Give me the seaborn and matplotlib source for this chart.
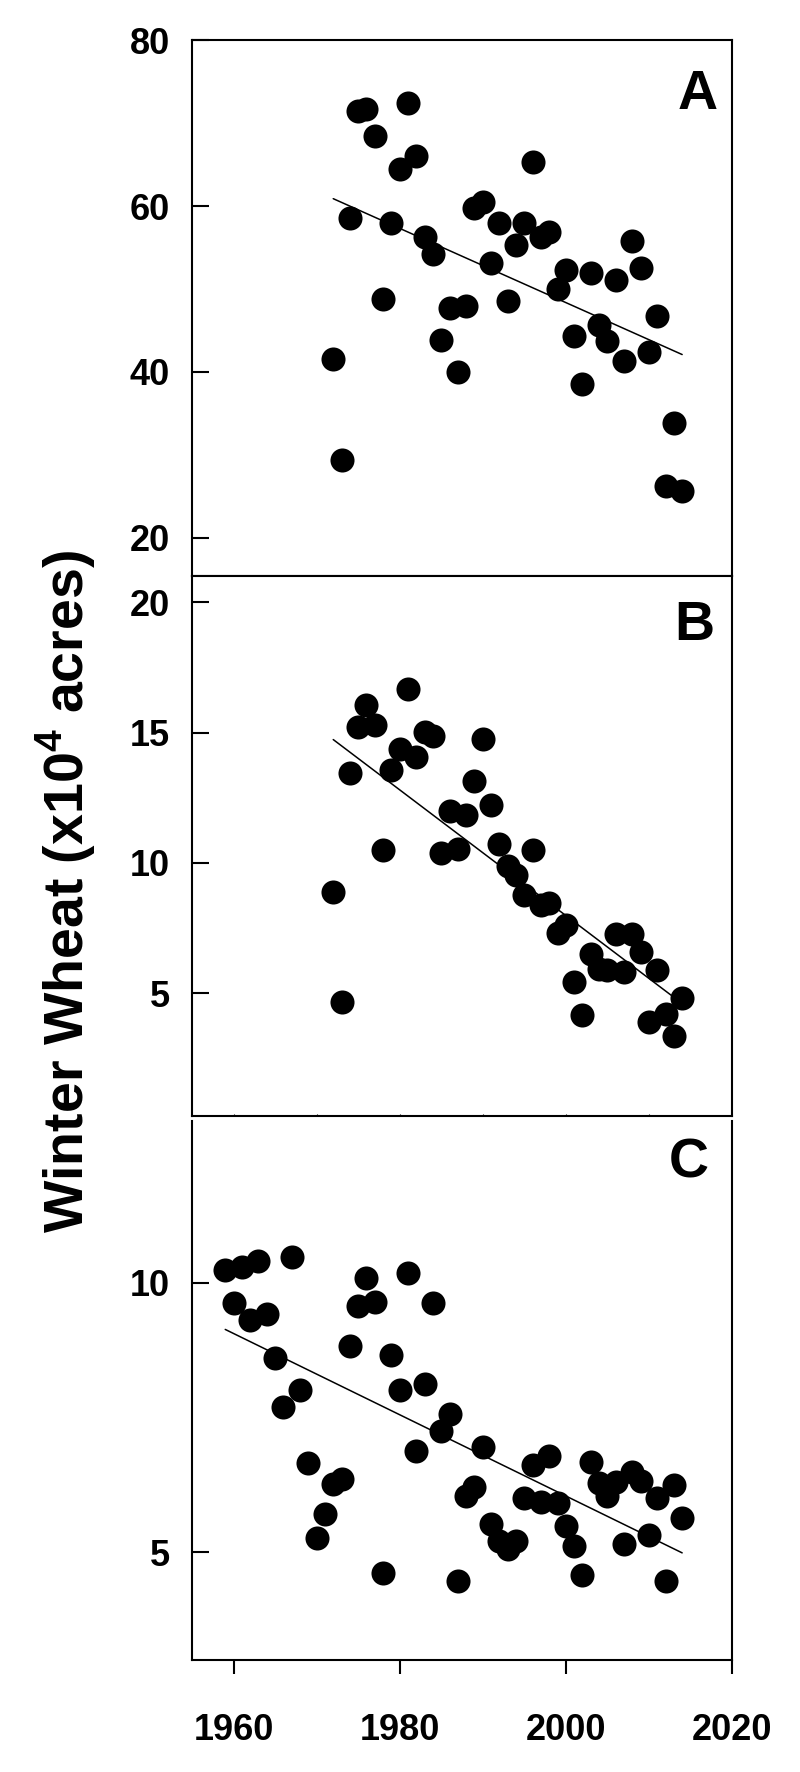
import numpy as np
import pandas as pd
import seaborn as sns
import matplotlib.pyplot as plt
from matplotlib import font_manager

# ==== data
years_a = list(range(1972, 2015))
wheat_a = [41.6, 29.4, 58.5, 71.4, 71.7, 68.4, 48.8, 57.9, 64.5, 72.4,
           66.0, 56.3, 54.2, 43.8, 47.7, 40.0, 47.9, 59.8, 60.5, 53.1,
           57.9, 48.6, 55.3, 58.0, 65.3, 56.3, 56.9, 50.0, 52.3, 44.3,
           38.5, 51.9, 45.6, 43.7, 51.1, 41.3, 55.8, 52.5, 42.4, 46.7,
           26.3, 33.8, 25.7]

years_b = list(range(1972, 2015))
wheat_b = [8.89, 4.68, 13.45, 15.22, 16.05, 15.30, 10.48, 13.56, 14.38, 16.67,
           14.07, 15.03, 14.86, 10.40, 12.01, 10.53, 11.84, 13.14, 14.75, 12.22,
           10.71, 9.89, 9.55, 8.77, 10.48, 8.38, 8.48, 7.32, 7.63, 5.44,
           4.18, 6.53, 5.92, 5.88, 7.29, 5.82, 7.29, 6.58, 3.90, 5.90,
           4.21, 3.38, 4.82]

years_c = list(range(1959, 2015))
wheat_c = [10.24, 9.63, 10.30, 9.31, 10.41, 9.41, 8.61, 7.69, 10.48, 8.00,
           6.66, 5.27, 5.71, 6.26, 6.35, 8.82, 9.56, 10.08, 9.65, 4.61,
           8.66, 8.00, 10.18, 6.87, 8.12, 9.63, 7.24, 7.56, 4.46, 6.05,
           6.21, 6.96, 5.53, 5.21, 5.06, 5.20, 6.01, 6.61, 5.93, 6.79,
           5.91, 5.49, 5.11, 4.58, 6.67, 6.29, 6.05, 6.30, 5.16, 6.49,
           6.33, 5.31, 6.01, 4.46, 6.25, 5.63]

panel_letters = ["A", "B", "C"]
y_ticks = [[20, 40, 60, 80], [5, 10, 15, 20], [5, 10]]
y_limits = [(15.4, 80), (0.3, 21), (3, 13)]
x_ticks = [1960, 1980, 2000, 2020]

sns.set_style("ticks")
names = {f.name for f in font_manager.fontManager.ttflist}
narrow = "Liberation Sans Narrow" if "Liberation Sans Narrow" in names else "Liberation Sans"
plt.rcParams['font.family'] = ['Liberation Sans', 'DejaVu Sans']
plt.rcParams['mathtext.fontset'] = 'custom'
plt.rcParams['mathtext.rm'] = 'Liberation Sans'
plt.rcParams['mathtext.bf'] = 'Liberation Sans:bold'
plt.rcParams['text.color'] = 'black'
plt.rcParams['xtick.color'] = 'black'
plt.rcParams['ytick.color'] = 'black'

fig = plt.figure(figsize=(8, 17.72), dpi=100)
boxes = [[0.24, 0.6749, 0.675, 0.3025],
         [0.24, 0.3702, 0.675, 0.3047],
         [0.24, 0.0632, 0.675, 0.3042]]
letter_pos = [(0.937, 0.897), (0.931, 0.907), (0.919, 0.922)]
tick_size = 26 if narrow == "Liberation Sans" else 30

datasets = [(years_a, wheat_a), (years_b, wheat_b), (years_c, wheat_c)]
for i, (yrs, vals) in enumerate(datasets):
    ax = fig.add_axes(boxes[i])
    df = pd.DataFrame({"year": yrs, "wheat": vals})
    sns.regplot(x="year", y="wheat", data=df, ax=ax, ci=None, color="black",
                scatter_kws={"s": 300, "alpha": 1, "linewidths": 0},
                line_kws={"lw": 1.1})
    ax.set_xlim(1955, 2020)
    ax.set_ylim(*y_limits[i])
    ax.set_yticks(y_ticks[i])
    ax.set_xlabel("")
    ax.set_ylabel("")
    for s in ax.spines.values():
        s.set_linewidth(1.5)
        s.set_color("black")
    ax.tick_params(axis="y", direction="in", length=12, width=1.5, pad=16,
                   labelsize=tick_size, labelcolor="black")
    for lab in ax.get_yticklabels():
        lab.set_fontfamily(narrow)
        lab.set_fontweight("bold")
    if i < 2:
        ax.set_xticks([1960, 1970, 1980, 1990, 2000, 2010])
        ax.tick_params(axis="x", direction="in", length=1.5 if i == 1 else 0,
                       width=0.8, labelbottom=False)
    else:
        ax.set_xticks(x_ticks)
        ax.spines["top"].set_visible(False)
        ax.tick_params(axis="x", direction="out", length=10, width=1.5, pad=28,
                       labelsize=tick_size, labelcolor="black")
        for lab in ax.get_xticklabels():
            lab.set_fontfamily(narrow)
            lab.set_fontweight("bold")
    ax.text(letter_pos[i][0], letter_pos[i][1], panel_letters[i],
            transform=ax.transAxes, ha="center", va="center",
            fontsize=40, fontweight="bold", color="black")

fig.text(0.082, 0.497, r"Winter Wheat (x10$^{\mathbf{4}}$ acres)", rotation=90,
         ha="center", va="center", fontsize=40, fontweight="bold", color="black")

plt.savefig("out.png", dpi=100)
